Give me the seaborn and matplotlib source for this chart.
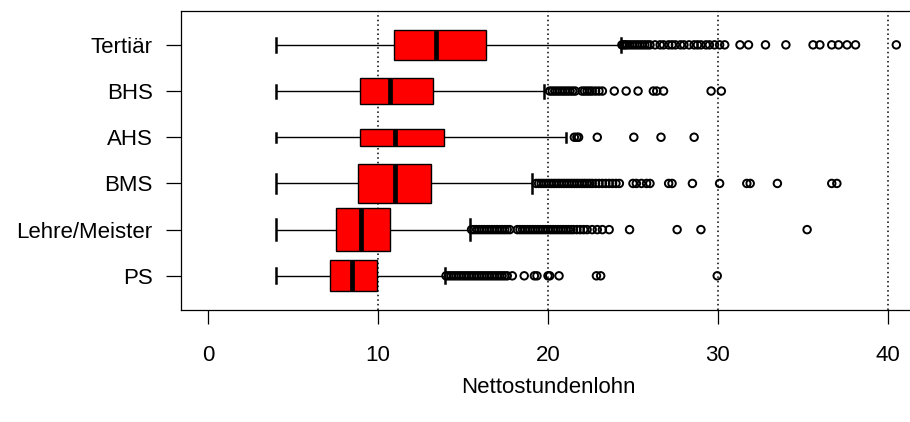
import matplotlib
matplotlib.use("Agg")
import matplotlib.pyplot as plt
import pandas as pd
import seaborn as sns

# ---------------- data ----------------
categories = ["Tertiär", "BHS", "AHS", "BMS", "Lehre/Meister", "PS"]
whisker_low = [4.0, 4.0, 4.0, 4.0, 4.0, 4.0]
q1 = [10.94, 8.92, 8.92, 8.84, 7.51, 7.16]
median = [13.43, 10.72, 11.02, 10.98, 8.98, 8.49]
q3 = [16.33, 13.25, 13.88, 13.10, 10.71, 9.96]
whisker_high = [24.28, 19.76, 21.08, 19.04, 15.43, 13.92]
box_widths = [0.634, 0.563, 0.375, 0.83, 0.924, 0.664]

outliers_tertiaer = [24.35, 24.45, 24.55, 24.65, 24.8, 24.95, 25.1, 25.25, 25.4,
                     25.55, 25.7, 25.85, 26.0, 26.3, 26.6, 26.8, 27.1, 27.3, 27.5,
                     27.8, 28.0, 28.3, 28.6, 28.8, 29.0, 29.3, 29.5, 29.8, 30.1,
                     30.4, 31.3, 31.8, 32.8, 34.0, 35.6, 36.0, 36.7, 37.1, 37.6,
                     38.1, 40.5]
outliers_bhs = [20.1, 20.25, 20.4, 20.55, 20.7, 20.85, 21.0, 21.15, 21.3, 21.45,
                21.6, 22.0, 22.15, 22.3, 22.45, 22.6, 22.8, 23.0, 23.2, 23.9,
                24.6, 25.3, 26.2, 26.4, 26.8, 29.6, 30.2]
outliers_ahs = [21.55, 21.7, 21.8, 22.9, 25.05, 26.65, 28.6]
outliers_bms = [19.3, 19.45, 19.6, 19.75, 19.9, 20.05, 20.2, 20.35, 20.5, 20.65,
                20.8, 20.95, 21.1, 21.25, 21.4, 21.55, 21.7, 21.85, 22.0, 22.15,
                22.3, 22.45, 22.6, 22.8, 23.0, 23.2, 23.4, 23.6, 23.8, 24.0,
                24.2, 25.0, 25.2, 25.5, 25.8, 26.0, 27.1, 27.3, 28.5, 30.1,
                31.7, 31.9, 33.5, 36.7, 37.0]
outliers_lehre = [15.5, 15.65, 15.8, 15.95, 16.1, 16.25, 16.4, 16.55, 16.7, 16.85,
                  17.0, 17.15, 17.3, 17.45, 17.6, 17.75, 18.2, 18.35, 18.5, 18.65,
                  18.8, 18.95, 19.1, 19.25, 19.4, 19.55, 19.7, 19.85, 20.0, 20.15,
                  20.3, 20.45, 20.6, 20.75, 20.9, 21.05, 21.2, 21.35, 21.5, 21.7,
                  21.9, 22.1, 22.3, 22.6, 22.9, 23.2, 23.6, 24.8, 27.6, 29.0,
                  35.25]
outliers_ps = [14.0, 14.15, 14.3, 14.45, 14.6, 14.75, 14.9, 15.05, 15.2, 15.35,
               15.5, 15.65, 15.8, 15.95, 16.1, 16.25, 16.4, 16.55, 16.7, 16.85,
               17.0, 17.15, 17.3, 17.45, 17.6, 17.9, 18.6, 19.2, 19.35, 20.0,
               20.1, 20.65, 22.85, 23.1, 29.96]
outlier_lists = [outliers_tertiaer, outliers_bhs, outliers_ahs, outliers_bms,
                 outliers_lehre, outliers_ps]

x_ticks = [0, 10, 20, 30, 40]
x_label = "Nettostundenlohn"

# ---------------- style ----------------
plt.rcParams["font.family"] = ["Liberation Sans", "DejaVu Sans"]
FS = 16

fig = plt.figure(figsize=(9.1, 4.22), dpi=100)
ax = fig.add_axes([0.1989, 0.2654, 0.8066, 0.7093])

# dotted reference lines
for xv in x_ticks[1:]:
    ax.axvline(xv, color="black", linestyle=(0, (1, 2)), linewidth=1.1, zorder=0)

# boxes (varwidth style, one call per group)
for i, cat in enumerate(categories):
    stats = [whisker_low[i], q1[i], median[i], q3[i], whisker_high[i]]
    df = pd.DataFrame({"value": stats, "group": [cat] * len(stats)})
    sns.boxplot(data=df, x="value", y="group", order=categories, orient="h",
                width=box_widths[i], whis=(0, 100), showfliers=False,
                color="red", saturation=1, linecolor="black", linewidth=1.0,
                medianprops={"linewidth": 3.4, "color": "black",
                             "solid_capstyle": "butt"},
                capprops={"linewidth": 1.8},
                ax=ax, zorder=2)

# outliers as open circles
fl_vals, fl_groups = [], []
for cat, vals in zip(categories, outlier_lists):
    fl_vals += vals
    fl_groups += [cat] * len(vals)
fl = pd.DataFrame({"value": fl_vals, "group": fl_groups})
sns.stripplot(data=fl, x="value", y="group", order=categories, orient="h",
              jitter=False, size=5.4, color="black", edgecolor="black",
              linewidth=1.4, ax=ax, zorder=3)
for coll in ax.collections:
    coll.set_facecolor("none")
    coll.set_edgecolor("black")

ax.set_xlim(-1.6, 41.6)
ax.set_ylim(len(categories) - 0.26, -0.74)
ax.set_xticks(x_ticks)
ax.set_xticklabels([str(t) for t in x_ticks])
ax.set_ylabel("")
ax.set_xlabel(x_label, fontsize=FS, labelpad=8)
ax.tick_params(axis="x", direction="out", length=10, width=0.9, pad=15,
               labelsize=FS, colors="black")
ax.tick_params(axis="y", direction="out", length=10.5, width=0.9, pad=10,
               labelsize=FS, colors="black")
for side in ["left", "top", "bottom", "right"]:
    ax.spines[side].set_color("black")
    ax.spines[side].set_linewidth(0.9)
ax.grid(False)

fig.savefig("out.png", dpi=100)
